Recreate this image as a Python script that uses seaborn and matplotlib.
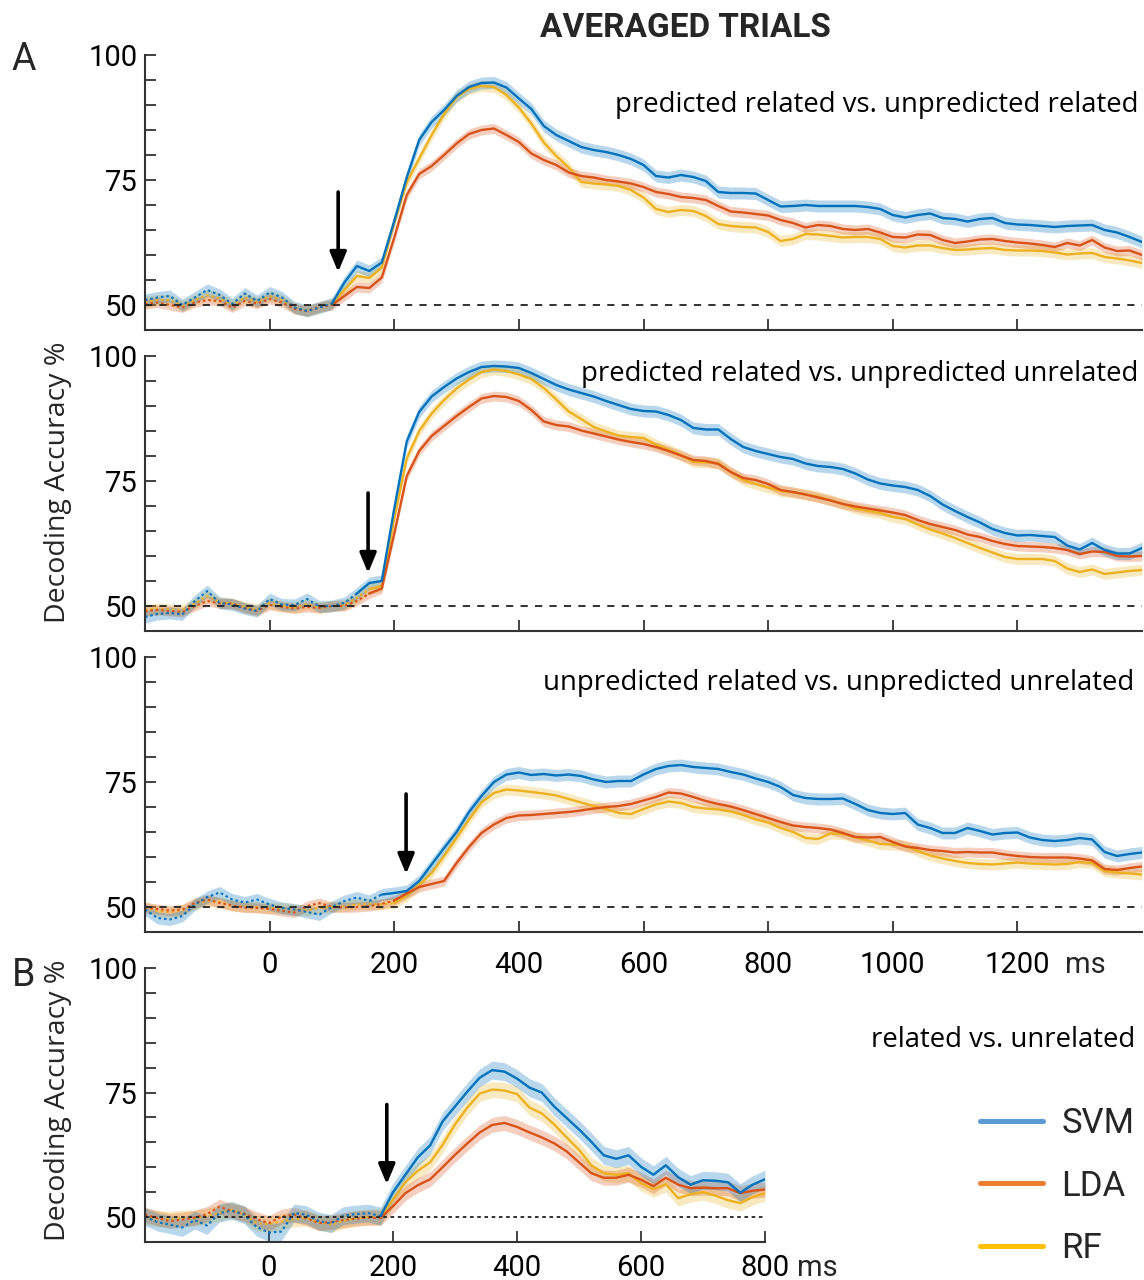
import numpy as np
import matplotlib
matplotlib.use("Agg")
import matplotlib.pyplot as plt
import matplotlib.transforms as mtrans
from matplotlib.lines import Line2D
import seaborn as sns

# ---------------- data ----------------
t_A = list(range(-200, 1401, 20))
t_B = list(range(-200, 801, 20))
classifiers = ["SVM", "LDA", "RF"]

a1_svm = [51.0, 51.5, 51.8, 50.0, 51.5, 53.0, 52.0, 50.2, 52.3, 50.8,
          52.5, 51.5, 49.5, 48.8, 49.5, 50.3, 54.5, 57.8, 56.8, 58.5,
          66.8, 75.5, 83.0, 86.6, 89.0, 91.8, 93.6, 94.4, 94.5, 93.5,
          91.3, 89.2, 85.8, 84.0, 82.8, 81.6, 81.0, 80.6, 80.0, 79.2,
          78.0, 75.8, 75.5, 76.0, 75.6, 74.8, 72.6, 72.4, 72.4, 72.3,
          71.0, 69.7, 69.8, 70.0, 69.8, 69.8, 69.8, 69.8, 69.6, 69.2,
          68.0, 67.5, 68.0, 68.3, 67.4, 67.2, 66.7, 67.2, 67.4, 66.4,
          66.1, 66.0, 65.8, 65.6, 65.8, 65.9, 66.0, 65.0, 64.5, 63.6,
          62.6]
a1_lda = [50.2, 50.5, 50.0, 49.5, 50.5, 51.0, 50.8, 49.5, 50.8, 50.3,
          51.2, 50.5, 49.2, 48.8, 49.6, 50.0, 51.8, 53.6, 53.4, 55.5,
          63.5, 72.0, 76.2, 77.8, 80.0, 82.3, 84.2, 85.0, 85.3, 84.0,
          82.6, 80.3, 79.0, 78.0, 76.5, 75.8, 75.5, 75.0, 74.7, 74.3,
          73.6, 72.6, 72.2, 71.6, 71.4, 71.0, 69.8, 68.7, 68.5, 68.2,
          67.9, 67.0, 66.4, 65.5, 66.0, 65.8, 65.2, 65.0, 65.2, 64.5,
          63.6, 63.5, 64.1, 64.0, 63.0, 62.4, 62.7, 63.1, 63.2, 62.8,
          62.5, 62.3, 62.0, 61.6, 62.4, 61.9, 63.0, 61.5, 60.8, 60.9,
          60.0]
a1_rf = [50.6, 51.0, 51.0, 49.8, 51.0, 52.0, 51.3, 50.0, 51.5, 50.5,
         51.8, 51.0, 49.4, 48.8, 49.5, 50.2, 53.0, 55.8, 55.4, 57.5,
         66.5, 74.5, 79.3, 84.0, 88.2, 91.6, 93.2, 93.8, 93.6, 92.0,
         89.5, 86.3, 82.5, 79.8, 77.5, 74.6, 74.3, 74.1, 73.8, 73.0,
         71.5, 69.2, 68.6, 69.0, 68.8, 67.8, 66.2, 65.8, 65.6, 65.5,
         64.6, 62.8, 63.2, 64.2, 64.1, 63.8, 63.5, 63.6, 63.6, 63.2,
         61.8, 61.5, 61.9, 61.9, 61.4, 61.0, 61.1, 61.3, 61.4, 61.0,
         60.9, 60.9, 60.8, 60.5, 60.1, 60.3, 60.4, 59.6, 59.3, 58.9,
         58.4]

a2_svm = [47.8, 48.4, 48.6, 48.3, 51.0, 53.0, 50.6, 50.3, 49.5, 49.0,
          51.4, 50.3, 50.2, 51.4, 49.9, 50.0, 50.6, 52.5, 54.6, 55.0,
          69.5, 82.9, 88.8, 91.9, 93.8, 95.5, 96.8, 97.8, 98.0, 97.9,
          97.6, 96.6, 95.4, 94.2, 93.3, 92.6, 91.9, 91.0, 90.2, 89.4,
          89.0, 88.9, 88.2, 87.2, 85.6, 85.3, 85.3, 83.4, 81.8, 81.0,
          80.4, 79.8, 79.4, 78.5, 78.0, 77.8, 77.4, 76.5, 75.3, 74.5,
          74.1, 73.8, 73.2, 72.0, 70.3, 69.0, 67.8, 66.7, 65.4, 64.6,
          64.1, 64.2, 64.0, 63.8, 62.1, 61.3, 62.6, 61.2, 60.5, 60.5,
          61.6]
a2_lda = [49.0, 49.2, 49.0, 48.8, 50.0, 51.0, 50.5, 50.5, 49.6, 49.0,
          50.2, 49.8, 49.5, 49.8, 49.6, 50.0, 50.0, 51.0, 52.5, 53.5,
          64.5, 76.0, 81.0, 84.0, 86.0, 88.0, 89.8, 91.5, 92.0, 91.8,
          91.0, 89.2, 86.9, 86.2, 85.9, 85.1, 84.5, 83.9, 83.3, 82.8,
          82.4, 81.8, 81.0, 80.1, 79.2, 79.0, 78.4, 76.8, 75.6, 75.2,
          74.4, 73.2, 72.8, 72.3, 71.7, 71.1, 70.4, 69.9, 69.5, 69.1,
          68.7, 68.2, 67.2, 66.4, 65.8, 65.2, 64.3, 63.8, 63.0, 62.4,
          62.0, 61.9, 61.8, 61.6, 61.2, 60.4, 60.9, 60.8, 60.0, 59.9,
          60.0]
a2_rf = [49.2, 49.5, 49.3, 49.2, 50.5, 52.0, 50.7, 50.5, 49.8, 49.3,
         50.6, 50.0, 49.7, 50.4, 49.6, 50.0, 50.2, 51.6, 53.4, 54.0,
         67.5, 79.5, 85.0, 88.5, 91.2, 93.5, 95.3, 96.8, 97.3, 97.0,
         96.3, 95.4, 93.6, 91.3, 88.9, 87.4, 85.8, 84.9, 84.1, 83.8,
         83.6, 82.3, 81.3, 80.2, 78.8, 78.7, 78.6, 76.8, 75.2, 74.4,
         73.7, 73.0, 72.7, 72.3, 71.9, 71.2, 70.4, 69.5, 69.0, 68.6,
         67.8, 67.4, 66.3, 65.3, 64.5, 63.6, 62.6, 61.6, 60.7, 59.8,
         59.4, 59.4, 59.4, 59.0, 57.5, 56.8, 57.3, 56.4, 56.7, 57.0,
         57.2]

a3_svm = [49.5, 47.8, 47.5, 48.2, 50.5, 52.0, 52.9, 51.5, 50.9, 51.5,
          50.5, 49.8, 49.5, 49.0, 48.5, 50.0, 51.2, 51.9, 51.2, 52.5,
          52.8, 53.2, 55.2, 58.5, 61.8, 65.0, 69.0, 72.2, 75.0, 76.5,
          76.9, 76.4, 76.6, 76.3, 76.5, 76.2, 75.5, 75.0, 75.2, 75.2,
          76.5, 77.6, 78.2, 78.4, 78.0, 77.8, 77.6, 77.0, 76.5, 75.7,
          75.0, 74.0, 72.4, 71.8, 71.6, 71.6, 71.7, 70.6, 69.4, 68.8,
          68.6, 68.8, 66.5, 65.8, 64.8, 64.8, 65.8, 65.2, 64.5, 64.8,
          64.9, 63.9, 63.4, 63.2, 63.4, 63.8, 63.5, 61.0, 60.2, 60.6,
          60.9]
a3_lda = [49.9, 49.6, 49.3, 49.5, 50.8, 51.5, 50.8, 50.3, 49.9, 49.8,
          49.6, 49.2, 48.9, 50.2, 50.8, 50.0, 49.9, 50.0, 50.2, 50.6,
          51.3, 52.7, 54.0, 54.6, 55.2, 58.8, 62.0, 64.8, 66.5, 67.8,
          68.3, 68.4, 68.6, 68.8, 69.0, 69.3, 69.7, 70.0, 70.2, 70.6,
          71.3, 72.0, 72.9, 72.7, 72.0, 71.2, 70.6, 70.1, 69.4, 68.6,
          67.8, 67.0, 66.3, 66.0, 65.8, 65.5, 64.8, 64.0, 63.9, 64.0,
          63.0, 62.1, 61.8, 61.4, 61.2, 60.9, 61.0, 60.9, 60.9, 60.5,
          60.2, 60.0, 59.9, 59.9, 59.9, 59.7, 59.3, 57.6, 57.4, 57.8,
          58.1]
a3_rf = [50.0, 49.2, 49.0, 49.4, 50.6, 51.2, 51.0, 50.2, 50.1, 50.0,
         49.8, 49.8, 49.5, 49.3, 49.8, 50.0, 50.2, 50.5, 50.6, 50.5,
         50.8, 52.2, 54.4, 56.8, 60.2, 63.8, 67.5, 70.9, 72.8, 73.5,
         73.3, 73.0, 72.7, 72.3, 71.6, 70.9, 70.2, 69.6, 68.8, 68.6,
         69.6, 70.5, 71.1, 70.8, 70.0, 69.7, 69.5, 69.1, 68.4, 67.5,
         66.9, 65.8, 65.0, 63.8, 63.6, 64.7, 64.6, 63.9, 63.3, 62.6,
         62.5, 62.3, 61.2, 60.3, 59.7, 59.2, 58.8, 58.6, 58.5, 58.7,
         58.9, 58.7, 58.6, 58.5, 58.6, 59.0, 58.8, 57.2, 56.9, 56.7,
         56.5]

b_svm = [50.1, 49.0, 48.5, 47.9, 49.4, 48.3, 50.8, 51.3, 50.5, 48.0,
         46.9, 47.1, 50.8, 50.5, 49.2, 48.7, 50.3, 50.6, 50.8, 50.2,
         55.0, 58.5, 62.0, 64.4, 69.2, 72.2, 75.2, 78.0, 79.5, 79.2,
         77.8, 76.0, 75.0, 72.2, 69.9, 67.6, 65.1, 62.4, 61.7, 62.4,
         60.1, 58.5, 60.4, 58.0, 56.5, 57.4, 57.3, 57.0, 54.9, 56.5,
         57.6]
b_lda = [50.5, 49.8, 49.2, 49.5, 49.9, 50.6, 52.1, 51.2, 50.7, 49.6,
         48.8, 50.1, 50.5, 49.8, 48.8, 49.0, 49.4, 49.7, 49.9, 49.8,
         52.2, 54.8, 56.4, 57.6, 60.0, 62.5, 64.8, 67.0, 68.5, 68.9,
         68.1, 67.0, 66.0, 64.8, 63.2, 61.0, 58.8, 57.9, 57.9, 58.5,
         57.5, 56.2, 57.9, 56.5, 55.8, 55.9, 55.8, 55.8, 54.8, 55.3,
         55.5]
b_rf = [50.1, 49.7, 49.6, 49.8, 49.8, 50.2, 50.8, 51.5, 50.5, 48.8,
        48.6, 49.1, 49.6, 49.8, 49.0, 48.5, 49.2, 49.8, 50.0, 50.1,
        53.5, 57.0, 59.3, 61.0, 64.5, 68.6, 72.0, 74.8, 75.6, 75.4,
        74.7, 72.0, 70.8, 68.6, 66.0, 63.5, 60.4, 58.8, 58.5, 58.8,
        56.8, 55.6, 56.6, 53.8, 54.6, 55.0, 54.3, 53.4, 52.8, 54.0,
        54.8]

# standard error half-widths (SVM, LDA, RF)
sem_A = [1.2, 1.0, 1.1]
sem_B = [1.8, 1.5, 1.6]
# onset of significance (ms) for each classifier (SVM, LDA, RF)
onset_a1 = [100, 100, 100]
onset_a2 = [140, 160, 160]
onset_a3 = [180, 200, 200]
onset_b = [180, 180, 180]
arrow_ms = [110, 158, 219, 190]
panel_titles = ["predicted related vs. unpredicted related",
                "predicted related vs. unpredicted unrelated",
                "unpredicted related vs. unpredicted unrelated"]
title_b = "related vs. unrelated"
xticks_A = [0, 200, 400, 600, 800, 1000, 1200]
xticks_B = [0, 200, 400, 600, 800]

# ---------------- style ----------------
sns.set_theme(style="ticks")
plt.rcParams["font.family"] = ["Roboto", "DejaVu Sans"]
line_colors = ["#0072BD", "#D95319", "#EDB120"]
legend_colors = ["#5B9BD5", "#ED7D31", "#FFC000"]
spine_col = "#333333"
TXT = ["Open Sans", "DejaVu Sans"]
TICK_FS = 21

fig = plt.figure(figsize=(11.44, 12.8), dpi=100)
W, H = 1144.0, 1280.0


def axes_px(left, top, right, bottom):
    a = fig.add_axes([left / W, 1 - bottom / H, (right - left) / W, (bottom - top) / H])
    a.set_facecolor("none")
    return a


ax1 = axes_px(145, 55, 1142, 330)
ax2 = axes_px(145, 356, 1142, 631)
ax3 = axes_px(145, 657, 1142, 932)
axb = axes_px(145, 968, 765, 1242)


def draw_panel(ax, t, series, sems, onsets, xlim, xticks, dash, arrow_x, show_xlabels, xpad):
    t = np.asarray(t)
    for k in [2, 1, 0]:
        y = np.asarray(series[k])
        c = line_colors[k]
        ax.fill_between(t, y - sems[k], y + sems[k], color=c, alpha=0.28, lw=0, zorder=1)
        i = list(t).index(onsets[k])
        sns.lineplot(x=t[: i + 1], y=y[: i + 1], ax=ax, color=c, lw=1.5,
                     linestyle=(0, (1.2, 1.4)), zorder=2)
        sns.lineplot(x=t[i:], y=y[i:], ax=ax, color=c, lw=1.7, zorder=2)
    ax.axhline(50, color="#222222", lw=1.3, ls=dash, zorder=2.5)
    ax.annotate("", xy=(arrow_x, 56.6), xytext=(arrow_x, 72.6),
                arrowprops=dict(arrowstyle="-|>,head_length=0.6,head_width=0.25",
                                color="black", lw=2.6, mutation_scale=20,
                                shrinkA=0, shrinkB=0), zorder=5)
    ax.set_xlim(*xlim)
    ax.set_ylim(45, 100)
    ax.set_yticks([50, 75, 100])
    ax.set_yticks([55, 60, 65, 70, 80, 85, 90, 95], minor=True)
    ax.set_xticks(xticks)
    ax.set_xticklabels([str(v) for v in xticks])
    sns.despine(ax=ax)
    for s in ["left", "bottom"]:
        ax.spines[s].set_color(spine_col)
        ax.spines[s].set_linewidth(1.5)
    ax.tick_params(axis="both", which="both", direction="in", length=8, width=1.3,
                   color=spine_col, labelcolor="black", labelsize=TICK_FS)
    ax.tick_params(axis="y", pad=5.5)
    ax.tick_params(axis="x", pad=xpad, labelbottom=show_xlabels)
    ax.set_xlabel("")
    ax.set_ylabel("")
    ax.grid(False)
    if show_xlabels:
        # unit "ms" right after the last tick label, on the same line
        trans = mtrans.blended_transform_factory(ax.transData, ax.transAxes) + \
            mtrans.ScaledTranslation(0, -xpad / 72.0, fig.dpi_scale_trans)
        ax.text(xticks[-1], 0, "ms", transform=trans, ha="left", va="top",
                fontsize=TICK_FS, clip_on=False)


draw_panel(ax1, t_A, [a1_svm, a1_lda, a1_rf], sem_A, onset_a1, (-200, 1400), xticks_A,
           (0, (4, 4)), arrow_ms[0], False, 13.5)
draw_panel(ax2, t_A, [a2_svm, a2_lda, a2_rf], sem_A, onset_a2, (-200, 1400), xticks_A,
           (0, (4, 4)), arrow_ms[1], False, 13.5)
draw_panel(ax3, t_A, [a3_svm, a3_lda, a3_rf], sem_A, onset_a3, (-200, 1400), xticks_A,
           (0, (4, 4)), arrow_ms[2], True, 13.5)
draw_panel(axb, t_B, [b_svm, b_lda, b_rf], sem_B, onset_b, (-200, 800), xticks_B,
           (0, (2, 2)), arrow_ms[3], True, 8.5)

# keep A3's tick labels above the B panel
ax3.set_zorder(3)

# shift the "ms" texts so they follow the number labels
for ax, dx in [(ax3, 48), (axb, 32)]:
    txt = ax.texts[-1]
    txt.set_transform(txt.get_transform() + mtrans.ScaledTranslation(dx / 100.0, 0, fig.dpi_scale_trans))

# panel titles
for ax, txt, yy, xr in zip([ax1, ax2, ax3], panel_titles, [0.818, 0.935, 0.905],
                           [0.996, 0.996, 0.992]):
    ax.text(xr, yy, txt, transform=ax.transAxes, ha="right", va="center",
            fontsize=19.8, family=TXT, color="black")
fig.text(1135 / W, 1 - 1040 / H, title_b, ha="right", va="center", fontsize=19.8,
         family=TXT, color="black")

# y labels
fig.text(58 / W, 1 - 482 / H, "Decoding Accuracy %", rotation=90, ha="center", va="center",
         fontsize=20.5, family=TXT)
fig.text(58 / W, 1 - 1100 / H, "Decoding Accuracy %", rotation=90, ha="center", va="center",
         fontsize=20.5, family=TXT)

# headings
fig.text(685 / W, 1 - 28 / H, "AVERAGED TRIALS", ha="center", va="center", fontsize=24,
         weight="bold")
fig.text(12 / W, 1 - 60 / H, "A", ha="left", va="center", fontsize=27)
fig.text(12 / W, 1 - 975 / H, "B", ha="left", va="center", fontsize=27)

# legend
handles = [Line2D([], [], color=c, lw=3.6) for c in legend_colors]
fig.legend(handles, classifiers, loc="center left", bbox_to_anchor=(980 / W, 1 - 1186 / H),
           frameon=False, fontsize=25, handlelength=1.8, handletextpad=0.55,
           labelspacing=0.85, borderpad=0, borderaxespad=0)

fig.savefig("out.png", dpi=100)
